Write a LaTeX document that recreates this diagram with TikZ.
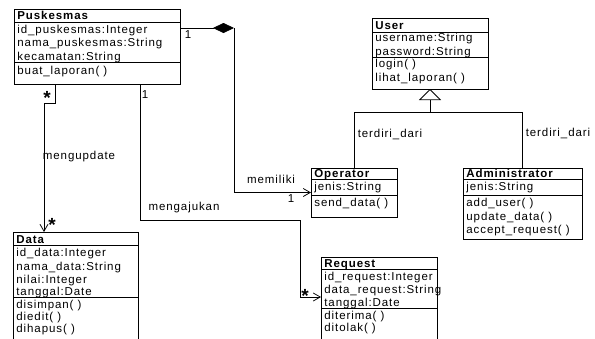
\documentclass[tikz,border=0pt]{standalone}
\usepackage{fontspec}
\setmainfont{Liberation Sans}[LetterSpace=8]
\usetikzlibrary{arrows.meta}
\newcommand{\fs}{\fontsize{11.5}{13}\selectfont}
\begin{document}
\begin{tikzpicture}[x=1pt,y=-1pt,line width=0.75pt,
  box/.style={draw,anchor=north west,inner sep=0pt,outer sep=0pt},
  txt/.style={anchor=base west,inner sep=0pt,font=\fs},
  ttl/.style={anchor=base west,inner sep=0pt,font=\fs\bfseries},
  lbl/.style={inner sep=0pt,font=\fs},
  mult/.style={anchor=north,inner sep=0pt,font=\fontsize{19}{19}\selectfont\bfseries},
  nav/.style={-{Straight Barb[length=7pt,width=8pt]}}]
\useasboundingbox (0,0) rectangle (595,338);
\clip (0,0) rectangle (595,338);
\fill[white] (0,0) rectangle (595,338);

% ---------- Puskesmas ----------
\node[box,minimum width=166pt,minimum height=75pt] (pusk) at (14,9) {};
\draw (pusk.north west |- 0,22) -- (pusk.north east |- 0,22);
\draw (pusk.north west |- 0,62) -- (pusk.north east |- 0,62);
\node[ttl] (puskT) at (17,19.5) {Puskesmas};
\node[txt] (puskA1) at (17,33) {id\_puskesmas:Integer};
\node[txt] (puskA2) at (17,46.5) {nama\_puskesmas:String};
\node[txt] (puskA3) at (17,60) {kecamatan:String};
\node[txt] (puskM1) at (17,74) {buat\_laporan( )};

% ---------- User ----------
\node[box,minimum width=116pt,minimum height=71pt] (user) at (372,18) {};
\draw (user.north west |- 0,32) -- (user.north east |- 0,32);
\draw (user.north west |- 0,57) -- (user.north east |- 0,57);
\node[ttl] (userT) at (375,29) {User};
\node[txt] (userA1) at (375,41.5) {username:String};
\node[txt] (userA2) at (375,55) {password:String};
\node[txt] (userM1) at (375,67.5) {login( )};
\node[txt] (userM2) at (375,81.5) {lihat\_laporan( )};

% ---------- Operator ----------
\node[box,minimum width=86pt,minimum height=49pt] (op) at (311,168) {};
\draw (op.north west |- 0,179) -- (op.north east |- 0,179);
\draw (op.north west |- 0,195) -- (op.north east |- 0,195);
\node[ttl] (opT) at (314,177.5) {Operator};
\node[txt] (opA1) at (314,190.5) {jenis:String};
\node[txt] (opM1) at (314,206.5) {send\_data( )};

% ---------- Administrator ----------
\node[box,minimum width=119pt,minimum height=71pt] (adm) at (463,168) {};
\draw (adm.north west |- 0,179) -- (adm.north east |- 0,179);
\draw (adm.north west |- 0,195) -- (adm.north east |- 0,195);
\node[ttl] (admT) at (466,177.5) {Administrator};
\node[txt] (admA1) at (466,190.5) {jenis:String};
\node[txt] (admM1) at (466,206.5) {add\_user( )};
\node[txt] (admM2) at (466,220) {update\_data( )};
\node[txt] (admM3) at (466,233.5) {accept\_request( )};

% ---------- Data ----------
\node[box,minimum width=125pt,minimum height=120pt] (data) at (13,232) {};
\draw (data.north west |- 0,245) -- (data.north east |- 0,245);
\draw (data.north west |- 0,297) -- (data.north east |- 0,297);
\node[ttl] (dataT) at (16,243) {Data};
\node[txt] (dataA1) at (16,256.5) {id\_data:Integer};
\node[txt] (dataA2) at (16,270) {nama\_data:String};
\node[txt] (dataA3) at (16,283.5) {nilai:Integer};
\node[txt] (dataA4) at (16,295.5) {tanggal:Date};
\node[txt] (dataM1) at (16,308.5) {disimpan( )};
\node[txt] (dataM2) at (16,320.5) {diedit( )};
\node[txt] (dataM3) at (16,332.5) {dihapus( )};

% ---------- Request ----------
\node[box,minimum width=116pt,minimum height=100pt] (req) at (321,257) {};
\draw (req.north west |- 0,269) -- (req.north east |- 0,269);
\draw (req.north west |- 0,308) -- (req.north east |- 0,308);
\node[ttl] (reqT) at (324,267) {Request};
\node[txt] (reqA1) at (324,280.5) {id\_request:Integer};
\node[txt] (reqA2) at (324,293.5) {data\_request:String};
\node[txt] (reqA3) at (324,306) {tanggal:Date};
\node[txt] (reqM1) at (324,319.5) {diterima( )};
\node[txt] (reqM2) at (324,331.5) {ditolak( )};

% ---------- Connectors ----------
% composition Puskesmas -- Operator
\coordinate (dia) at (234,28);
\draw[-{Diamond[length=21pt,width=10pt]}] (pusk.east |- dia) -- (dia);
\draw[nav] (dia) |- (op.west);
\node[lbl] (l1a) at (188,35) {1};
\node[lbl] (lmem) at (271,179) {memiliki};
\node[lbl] (l1b) at (291,199) {1};

% Puskesmas -- Data
\coordinate (pd) at ([xshift=41pt]pusk.south west);
\coordinate (dd) at ([xshift=31pt]data.north west);
\draw[nav] (pd) -- ++(0,19) -| (dd);
\node[mult] (s1) at (47,91) {*};
\node[mult] (s2) at (52,218) {*};
\node[lbl] (lupd) at (79,157) {mengupdate};

% Puskesmas -- Request
\coordinate (pr) at ([xshift=126pt]pusk.south west);
\coordinate (bend) at (300,220);
\coordinate (rq) at (req.north west |- 0,297);
\draw[nav] (pr) |- (bend) |- (rq);
\node[lbl] (l1c) at (145,95) {1};
\node[mult] (s3) at (305,289) {*};
\node[lbl] (lmeng) at (184,208) {mengajukan};

% Generalization
\coordinate (gen) at (user.south |- 0,112);
\draw (op.north) |- (gen);
\draw (adm.north) |- (gen);
\draw[-{Triangle[open,length=11pt,width=22pt]}] (gen) -- (user.south);
\node[lbl] (lt1) at (390,134) {terdiri\_dari};
\node[lbl] (lt2) at (558,133) {terdiri\_dari};
\end{tikzpicture}
\end{document}
